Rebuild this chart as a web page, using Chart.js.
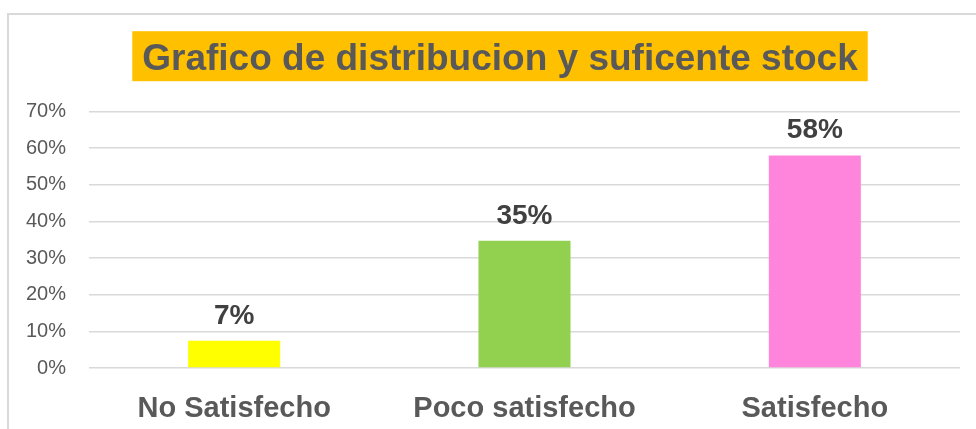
<!DOCTYPE html>
<html>
<head>
<meta charset="utf-8">
<script src="https://cdn.jsdelivr.net/npm/chart.js@4.4.0/dist/chart.umd.min.js"></script>
<style>
    html, body {
        margin: 0;
        padding: 0;
        background: #ffffff;
        overflow: hidden;
    }
    .frame {
        position: absolute;
        left: 7px;
        top: 13px;
        width: 1000px;
        height: 440px;
        border: 2px solid #d9d9d9;
    }
    .frame canvas {
        position: absolute;
        left: 0;
        top: 0;
    }
</style>
</head>
<body>
<div class="frame">
    <canvas id="stock_chart" width="982" height="416"></canvas>
</div>
<script>
const categories = ["No Satisfecho", "Poco satisfecho", "Satisfecho"];
const percentValues = [7.4, 34.7, 58.0];
const barColors = ["#ffff00", "#92d050", "#ff85dc"];
const yTicks = [0, 10, 20, 30, 40, 50, 60, 70];
const chartTitle = "Grafico de distribucion y suficente stock";

const TEXT_GRAY = "#595959";
const FONT = "'Liberation Sans', Arial, sans-serif";
const TITLE_SIZE = 37;

// title drawn on an orange box, like the excel one (built-in title only reserves the space)
const titleBoxPlugin = {
    id: "titleBox",
    afterDraw: (chart) => {
        const block = chart.titleBlock;
        if (!block) return;
        const ctx = chart.ctx;
        const opts = chart.options.plugins.title;
        ctx.save();
        ctx.font = `bold ${TITLE_SIZE}px ${FONT}`;
        const textWidth = ctx.measureText(chartTitle).width;
        const centerX = chart.width / 2;
        const centerY = block.top + opts.padding.top + (TITLE_SIZE * 1.2) / 2;
        ctx.fillStyle = "#ffc000";
        ctx.fillRect(centerX - textWidth / 2 - 10, centerY - 25, textWidth + 20, 50);
        ctx.fillStyle = TEXT_GRAY;
        ctx.textAlign = "center";
        ctx.textBaseline = "alphabetic";
        ctx.fillText(chartTitle, centerX, centerY + 14);
        ctx.restore();
    }
};

// value labels on top of each bar
const barLabelPlugin = {
    id: "barLabels",
    afterDatasetsDraw: (chart) => {
        const ctx = chart.ctx;
        const meta = chart.getDatasetMeta(0);
        ctx.save();
        ctx.font = `bold 28px ${FONT}`;
        ctx.fillStyle = "#404040";
        ctx.textAlign = "center";
        ctx.textBaseline = "alphabetic";
        meta.data.forEach((bar, i) => {
            const value = chart.data.datasets[0].data[i];
            ctx.fillText(`${Math.round(value)}%`, bar.x, bar.y - 17);
        });
        ctx.restore();
    }
};

const chartEle = document.getElementById("stock_chart");

new Chart(chartEle, {
    type: "bar",
    data: {
        labels: categories,
        datasets: [{
            label: "Porcentaje",
            data: percentValues,
            backgroundColor: barColors,
            borderWidth: 0,
            categoryPercentage: 1,
            barPercentage: 0.317
        }]
    },
    options: {
        responsive: false,
        animation: false,
        devicePixelRatio: 1,
        layout: {
            padding: {
                left: 10,
                right: 31,
                bottom: 6,
                top: 0
            }
        },
        plugins: {
            legend: {
                display: false
            },
            tooltip: {
                enabled: false
            },
            title: {
                display: true,
                text: chartTitle,
                color: "rgba(0,0,0,0)",
                font: {
                    family: FONT,
                    size: TITLE_SIZE,
                    weight: "bold"
                },
                padding: {
                    top: 19,
                    bottom: 33
                }
            }
        },
        scales: {
            x: {
                afterFit: (scale) => {
                    scale.height = 57;
                },
                grid: {
                    display: false
                },
                border: {
                    display: false
                },
                ticks: {
                    color: TEXT_GRAY,
                    padding: 16,
                    maxRotation: 0,
                    font: {
                        family: FONT,
                        size: 29,
                        weight: "bold"
                    }
                }
            },
            y: {
                min: 0,
                max: yTicks[yTicks.length - 1],
                afterBuildTicks: (scale) => {
                    scale.ticks = yTicks.map(v => ({ value: v }));
                },
                afterFit: (scale) => {
                    scale.width = 70;
                },
                grid: {
                    color: "#d9d9d9",
                    lineWidth: 1.5,
                    drawTicks: false
                },
                border: {
                    display: false
                },
                ticks: {
                    color: TEXT_GRAY,
                    padding: 23,
                    font: {
                        family: FONT,
                        size: 20
                    },
                    callback: (value) => `${value}%`
                }
            }
        }
    },
    plugins: [titleBoxPlugin, barLabelPlugin]
});
</script>
</body>
</html>
